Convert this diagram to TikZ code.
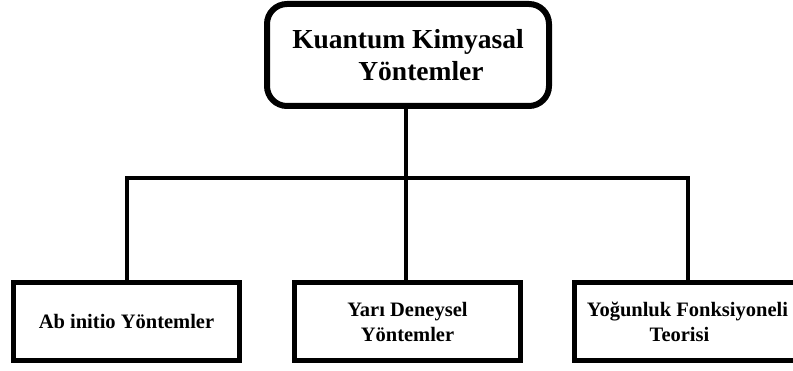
\documentclass[tikz,border=0pt]{standalone}
\usepackage{fontspec}
\setmainfont{Liberation Serif}
\begin{document}
\begin{tikzpicture}[x=1pt,y=-1pt,
  topbox/.style={draw, line width=6pt, rounded corners=20pt, minimum width=282pt, minimum height=102pt, align=center, inner sep=0pt, outer sep=0pt, font=\bfseries\fontsize{27.5}{32}\selectfont},
  subbox/.style={draw, line width=5pt, minimum width=226pt, minimum height=78pt, align=center, inner sep=0pt, outer sep=0pt, font=\bfseries\fontsize{20.5}{25}\selectfont},
  conn/.style={line width=4pt}]
\useasboundingbox (0,0) rectangle (793,371);
\node[topbox] (top) at (408,55) {Kuantum Kimyasal\\\hspace*{26pt}Yöntemler};
\node[subbox] (b1) at (126.5,321.5) {Ab initio Yöntemler};
\node[subbox] (b2) at (407.5,321.5) {Yarı Deneysel\\Yöntemler};
\node[subbox] (b3) at (687.5,321.5) {Yoğunluk Fonksiyoneli\\Teorisi\hspace*{16pt}};
\coordinate (bus) at (406,178);
\draw[conn] (top.south -| bus) -- (b2.north -| bus);
\draw[conn] (b1.north) -- (b1.north |- bus) -- (b3.north |- bus) -- (b3.north);
\end{tikzpicture}
\end{document}
